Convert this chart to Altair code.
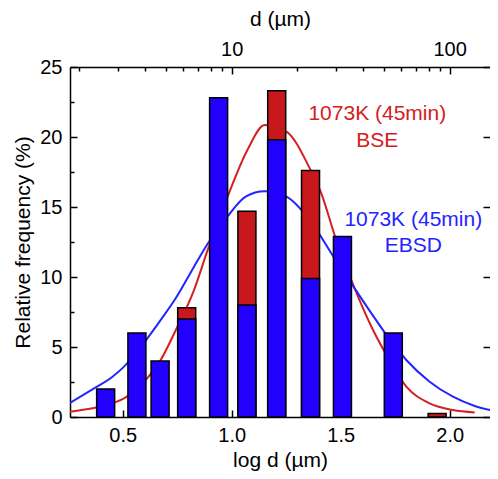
import altair as alt
import pandas as pd

# ---- data ----
ebsd_logd = [0.402, 0.549, 0.658, 0.783, 0.933, 1.066, 1.206, 1.365, 1.515, 1.754]
ebsd_freq = [2.0, 6.0, 4.0, 7.0, 22.8, 8.0, 19.8, 9.9, 12.9, 6.0]
bse_logd = [0.783, 1.066, 1.206, 1.365, 1.96]
bse_freq = [7.8, 14.7, 23.3, 17.6, 0.25]

bse_fit_x = [0.258, 0.361, 0.453, 0.506, 0.598, 0.674, 0.743, 0.827, 0.889, 0.98, 1.072,
             1.151, 1.251, 1.358, 1.411, 1.472, 1.564, 1.641, 1.71, 1.801, 1.908, 2.015, 2.115]
bse_fit_y = [0.38, 0.62, 0.98, 1.33, 2.52, 4.07, 6.2, 9.07, 11.9, 15.7, 19.07,
             20.86, 20.38, 17.76, 15.98, 13.0, 9.19, 6.45, 4.43, 2.17, 0.98, 0.5, 0.33]
ebsd_fit_x = [0.258, 0.361, 0.453, 0.506, 0.598, 0.674, 0.743, 0.827, 0.889, 0.98, 1.064,
              1.151, 1.251, 1.358, 1.472, 1.564, 1.641, 1.71, 1.801, 1.908, 2.015, 2.115, 2.222]
ebsd_fit_y = [1.0, 1.98, 2.88, 3.6, 5.31, 6.93, 8.48, 10.74, 12.36, 14.31, 15.74,
              16.12, 15.74, 14.07, 11.33, 9.19, 7.4, 5.86, 4.07, 2.52, 1.45, 0.79, 0.38]

label_text = ["1073K (45min)", "BSE", "1073K (45min)", "EBSD"]
label_x = [1.668, 1.668, 1.833, 1.833]
label_y = [21.21, 19.31, 13.64, 11.81]
label_series = ["BSE", "BSE", "EBSD", "EBSD"]

x_ticks = [0.5, 1.0, 1.5, 2.0]
y_ticks = [0, 5, 10, 15, 20, 25]
y_minor = [2.5, 7.5, 12.5, 17.5, 22.5]
top_major = [10, 100]
top_minor = [2, 3, 4, 5, 6, 7, 8, 9, 20, 30, 40, 50, 60, 70, 80, 90]

X_LO, X_HI = 0.258, 2.185
RED_BAR, BLUE_BAR = "#C8181C", "#2200FF"
RED_LINE, BLUE_LINE = "#D42020", "#2424FF"
FONT = "Liberation Sans"

bars_blue = pd.DataFrame({"logd": ebsd_logd, "freq": ebsd_freq})
bars_red = pd.DataFrame({"logd": bse_logd, "freq": bse_freq})
fits = pd.concat([
    pd.DataFrame({"logd": bse_fit_x, "freq": bse_fit_y, "series": "BSE"}),
    pd.DataFrame({"logd": ebsd_fit_x, "freq": ebsd_fit_y, "series": "EBSD"}),
])
labels = pd.DataFrame({"logd": label_x, "freq": label_y, "text": label_text,
                       "series": label_series})
yt = pd.DataFrame({"logd": [X_LO] * len(y_ticks), "freq": y_ticks})
yminor_df = pd.DataFrame({"logd": [X_LO] * len(y_minor), "freq": y_minor})
top_df = pd.DataFrame({"d": top_minor + top_major})

xs = alt.Scale(domain=[X_LO, X_HI], nice=False, zero=False)
ys = alt.Scale(domain=[0, 25], nice=False, zero=True)
xtop = alt.Scale(type="log", domain=[10 ** X_LO, 10 ** X_HI], nice=False)
color_scale = alt.Scale(domain=["BSE", "EBSD"], range=[RED_LINE, BLUE_LINE])

tick_common = dict(labels=False, domain=False, grid=False, title=None,
                   tickColor="black", tickWidth=1.5)

curves = alt.Chart(fits).mark_line(interpolate="monotone", strokeWidth=2, clip=True).encode(
    x=alt.X("logd:Q", scale=xs, axis=None),
    y=alt.Y("freq:Q", scale=ys, axis=None),
    color=alt.Color("series:N", scale=color_scale, legend=None),
)

red = alt.Chart(bars_red).mark_bar(size=18, color=RED_BAR, stroke="black", strokeWidth=1.5).encode(
    x=alt.X("logd:Q", scale=xs, axis=None),
    y=alt.Y("freq:Q", scale=ys, axis=None),
)
blue = alt.Chart(bars_blue).mark_bar(size=18, color=BLUE_BAR, stroke="black", strokeWidth=1.5).encode(
    x=alt.X("logd:Q", scale=xs, axis=None),
    y=alt.Y("freq:Q", scale=ys, axis=None),
)

text = alt.Chart(labels).mark_text(font=FONT, fontSize=21, baseline="alphabetic", align="center").encode(
    x=alt.X("logd:Q", scale=xs, axis=None),
    y=alt.Y("freq:Q", scale=ys, axis=None),
    text="text:N",
    color=alt.Color("series:N", scale=color_scale, legend=None),
)

# labelled axes (bottom, left)
lab_axes = alt.Chart(bars_blue).mark_point(opacity=0).encode(
    x=alt.X("logd:Q", scale=xs, axis=alt.Axis(
        orient="bottom", values=x_ticks, format=".1f", ticks=False, domain=True,
        domainColor="black", domainWidth=1.5, grid=False, labelPadding=8,
        labelFlush=False, title="log d (µm)", titlePadding=4)),
    y=alt.Y("freq:Q", scale=ys, axis=alt.Axis(
        orient="left", values=y_ticks, ticks=False, domain=True,
        domainColor="black", domainWidth=1.5, grid=False, labelPadding=8,
        labelFlush=False, title="Relative frequency (%)", titlePadding=6)),
)
# inward major ticks bottom / left
maj_ticks = alt.Chart(yt).mark_point(opacity=0).encode(
    x=alt.X("logd:Q", scale=xs, axis=alt.Axis(orient="bottom", values=x_ticks,
                                               tickSize=alt.ExprRef("-7"), **tick_common)),
    y=alt.Y("freq:Q", scale=ys, axis=alt.Axis(orient="left", values=y_ticks,
                                               tickSize=alt.ExprRef("-7"), **tick_common)),
)
min_ticks = alt.Chart(yminor_df).mark_point(opacity=0).encode(
    x=alt.X("logd:Q", scale=xs, axis=None),
    y=alt.Y("freq:Q", scale=ys, axis=alt.Axis(orient="left", values=y_minor,
                                               tickSize=alt.ExprRef("-4"), **tick_common)),
)
right_ticks = alt.Chart(yt).mark_point(opacity=0).encode(
    x=alt.X("logd:Q", scale=xs, axis=None),
    y=alt.Y("freq:Q", scale=ys, axis=alt.Axis(orient="right", values=y_ticks,
                                               tickSize=alt.ExprRef("-7"), **tick_common)),
)
# top axis: d in µm on a log scale
top_lab = alt.Chart(top_df).mark_point(opacity=0).encode(
    x=alt.X("d:Q", scale=xtop, axis=alt.Axis(
        orient="top", values=top_major, format="d", ticks=False, domain=True,
        domainColor="black", domainWidth=1.5, grid=False, labelPadding=8,
        labelFlush=False, title="d (µm)", titlePadding=10)),
)
top_maj = alt.Chart(top_df).mark_point(opacity=0).encode(
    x=alt.X("d:Q", scale=xtop, axis=alt.Axis(orient="top", values=top_major,
                                              tickSize=alt.ExprRef("-7"), **tick_common)),
)
top_min = alt.Chart(top_df).mark_point(opacity=0).encode(
    x=alt.X("d:Q", scale=xtop, axis=alt.Axis(orient="top", values=top_minor,
                                              tickSize=alt.ExprRef("-4"), **tick_common)),
)

chart = alt.layer(
    lab_axes, maj_ticks, min_ticks, right_ticks, top_lab, top_maj, top_min,
    curves, red, blue, text,
).resolve_scale(x="independent").resolve_axis(x="independent", y="independent").properties(
    width=420, height=350,
    padding={"left": 62, "top": 59, "right": 0, "bottom": 54},
    autosize=alt.AutoSizeParams(type="none"),
).configure_view(stroke=None).configure_axis(
    labelFont=FONT, titleFont=FONT, labelFontSize=20, titleFontSize=21,
    titleFontWeight="normal", labelColor="black", titleColor="black",
)

chart.save("out.html", embed_options={"renderer": "svg", "actions": False})
